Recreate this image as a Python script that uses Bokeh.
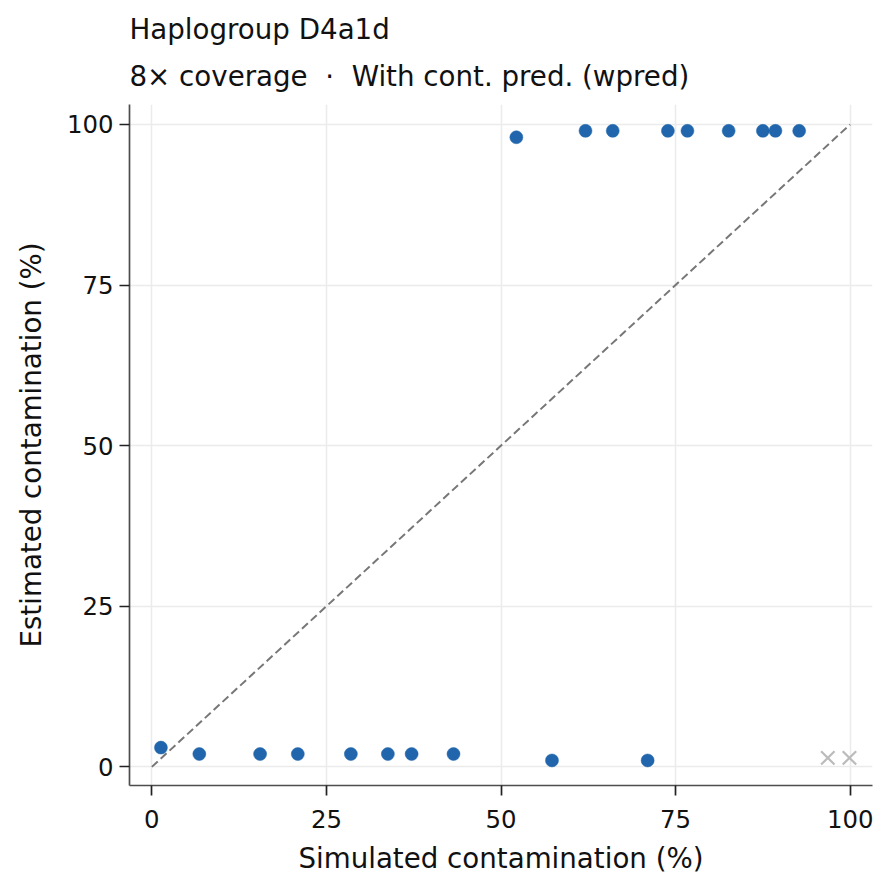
from bokeh.plotting import figure
from bokeh.models import Range1d, FixedTicker, Title
from bokeh.embed import file_html
from bokeh.resources import INLINE

# ---- data ----
title_text = "Haplogroup D4a1d"
subtitle_text = "8× coverage \u00a0·\u00a0 With cont. pred. (wpred)"
x_label = "Simulated contamination (%)"
y_label = "Estimated contamination (%)"
tick_values = [0, 25, 50, 75, 100]

sim_ok = [1.3, 6.8, 15.5, 20.9, 28.5, 33.8, 37.2, 43.2, 52.2, 57.3,
          62.1, 66.0, 71.0, 73.9, 76.7, 82.6, 87.5, 89.3, 92.7]
est_ok = [3, 2, 2, 2, 2, 2, 2, 2, 98, 1,
          99, 99, 1, 99, 99, 99, 99, 99, 99]
sim_fail = [96.8, 99.9]
est_fail = [1.4, 1.4]
diag = [0, 100]

FONT = "DejaVu Sans"

p = figure(width=890, height=890, output_backend="svg", toolbar_location=None,
           x_range=Range1d(-3.2, 103.2), y_range=Range1d(-2.9, 103.1),
           min_border_left=129, min_border_right=18,
           min_border_top=104, min_border_bottom=105)

p.outline_line_color = None
p.background_fill_color = "white"
p.border_fill_color = "white"

# titles
sub = Title(text=subtitle_text, align="left", text_font=FONT,
            text_font_size="27.7px", text_font_style="normal",
            text_color="#111111", standoff=24)
p.add_layout(sub, "above")
main = Title(text=title_text, align="left", text_font=FONT,
             text_font_size="27.7px", text_font_style="normal",
             text_color="#111111", standoff=0)
p.add_layout(main, "above")

# grid
for g in (p.xgrid, p.ygrid):
    g.grid_line_color = "#ebebeb"
    g.grid_line_width = 1.5
p.xgrid.ticker = FixedTicker(ticks=tick_values)
p.ygrid.ticker = FixedTicker(ticks=tick_values)

# axes
for ax in (p.xaxis[0], p.yaxis[0]):
    ax.ticker = FixedTicker(ticks=tick_values)
    ax.axis_line_color = "#4d4d4d"
    ax.axis_line_width = 1.7
    ax.major_tick_line_color = "#222222"
    ax.major_tick_line_width = 1.7
    ax.major_tick_out = 10
    ax.major_tick_in = 0
    ax.minor_tick_line_color = None
    ax.major_label_text_font = FONT
    ax.major_label_text_font_size = "24.4px"
    ax.major_label_text_color = "#111111"
    ax.axis_label_text_font = FONT
    ax.axis_label_text_font_size = "27.7px"
    ax.axis_label_text_font_style = "normal"
    ax.axis_label_text_color = "#111111"

p.xaxis.axis_label = x_label
p.yaxis.axis_label = y_label
p.xaxis.major_label_standoff = 14
p.yaxis.major_label_standoff = 6
p.xaxis.axis_label_standoff = 11
p.yaxis.axis_label_standoff = 16

# identity line
p.line(diag, diag, line_color="#777777", line_width=2, line_dash="8 4")

# estimates
p.scatter(sim_ok, est_ok, size=13, fill_color="#2166ac", line_color="#2166ac",
          line_width=0.5)

# failed runs
p.scatter(sim_fail, est_fail, marker="x", size=19, line_color="#bbbbbb",
          line_width=2.2)

open("out.html", "w").write(file_html(p, INLINE))
